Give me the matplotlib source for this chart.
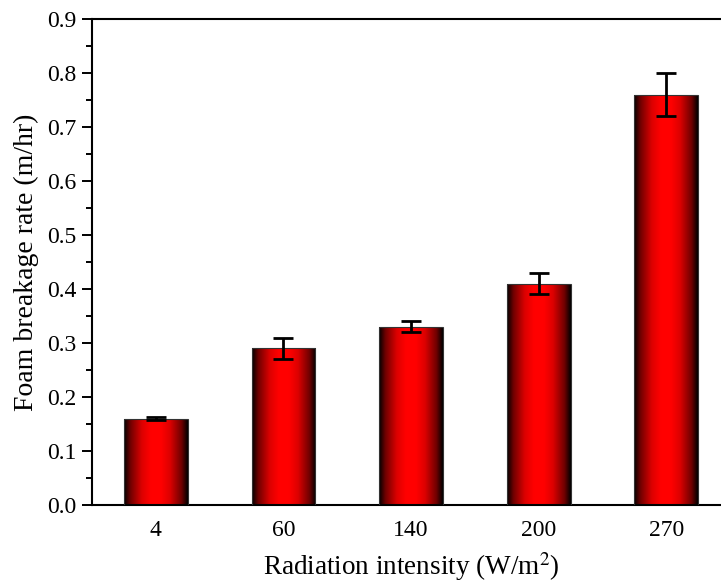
import matplotlib
matplotlib.use('Agg')
import matplotlib.pyplot as plt
import numpy as np
from matplotlib.colors import LinearSegmentedColormap
from matplotlib.patches import Rectangle
from matplotlib.ticker import MultipleLocator

plt.rcParams['font.family'] = ['Liberation Serif', 'DejaVu Serif']
plt.rcParams['mathtext.fontset'] = 'stix'

# data
categories = ['4', '60', '140', '200', '270']
rate = [0.16, 0.29, 0.33, 0.41, 0.76]
err = [0.003, 0.02, 0.01, 0.02, 0.04]

fig = plt.figure(figsize=(7.21, 5.84), dpi=100)
ax = fig.add_axes([92 / 721, 1 - 505 / 584, (730 - 92) / 721, 486 / 584])

# black-red-black horizontal gradient
cmap = LinearSegmentedColormap.from_list(
    'bar', [(0.0, '#000000'), (0.1, '#700000'), (0.28, '#dd0000'),
            (0.42, '#ff0000'), (0.58, '#ff0000'), (0.72, '#dd0000'),
            (0.9, '#700000'), (1.0, '#000000')])
grad = np.linspace(0, 1, 256).reshape(1, -1)

x = np.arange(len(categories))
w = 0.5
for xi, h in zip(x, rate):
    im = ax.imshow(grad, cmap=cmap, aspect='auto',
                   extent=[xi - w / 2, xi + w / 2, 0, h], zorder=2)
    rect = Rectangle((xi - w / 2, 0), w, h, facecolor='none',
                     edgecolor='#333333', lw=0.8, zorder=3)
    ax.add_patch(rect)
    im.set_clip_path(rect)

ax.errorbar(x, rate, yerr=err, fmt='none', ecolor='black', elinewidth=2,
            capsize=7.5, capthick=2, zorder=4)

ax.set_xlim(-0.5, 4.5)
ax.set_ylim(0, 0.9)
ax.set_xticks(x)
ax.set_xticklabels(categories)
ax.yaxis.set_major_locator(MultipleLocator(0.1))
ax.yaxis.set_minor_locator(MultipleLocator(0.05))
ax.yaxis.set_major_formatter(plt.FormatStrFormatter('%.1f'))

for s in ax.spines.values():
    s.set_linewidth(1.5)
ax.tick_params(axis='both', which='major', direction='out', length=7,
               width=1.4, labelsize=17)
ax.tick_params(axis='y', which='minor', direction='out', length=4, width=1.4)
ax.tick_params(axis='x', which='both', bottom=False)
ax.tick_params(axis='x', pad=4)
ax.tick_params(axis='y', pad=4)

ax.set_xlabel('Radiation intensity (W/m$^2$)', fontsize=19.5, labelpad=6)
ax.set_ylabel('Foam breakage rate (m/hr)', fontsize=20, labelpad=6)

fig.savefig('out.png', dpi=100, facecolor='white')
